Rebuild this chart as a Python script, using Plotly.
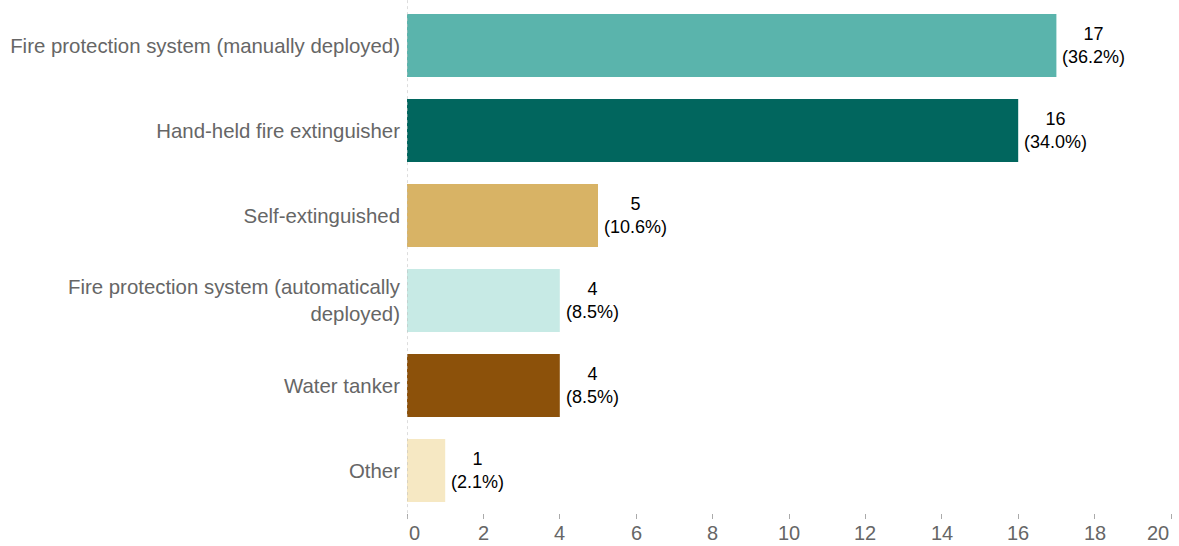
import plotly.graph_objects as go

categories = [
    "Fire protection system (manually deployed)",
    "Hand-held fire extinguisher",
    "Self-extinguished",
    "Fire protection system (automatically<br>deployed)",
    "Water tanker",
    "Other",
]
counts = [17, 16, 5, 4, 4, 1]
percents = [36.2, 34.0, 10.6, 8.5, 8.5, 2.1]
colors = ["#5AB4AC", "#01665E", "#D8B365", "#C7EAE5", "#8C510A", "#F6E8C3"]
x_ticks = [0, 2, 4, 6, 8, 10, 12, 14, 16, 18, 20]

FONT = "Liberation Sans, Arial, sans-serif"

fig = go.Figure(
    go.Bar(
        x=counts,
        y=categories,
        orientation="h",
        marker=dict(color=colors, line=dict(width=0)),
        hoverinfo="skip",
    )
)

# value + share labels to the right of each bar
for cat, n, p in zip(categories, counts, percents):
    fig.add_annotation(
        x=n, y=cat, xref="x", yref="y",
        text=f"{n}<br>({p:.1f}%)",
        showarrow=False, xanchor="left", yanchor="middle",
        align="center", xshift=4,
        font=dict(family=FONT, size=18, color="#000000"),
    )

# x tick labels, end labels kept inside the axis span
for i, t in enumerate(x_ticks):
    anchor = "left" if i == 0 else ("right" if i == len(x_ticks) - 1 else "center")
    fig.add_annotation(
        x=t, y=0, xref="x", yref="paper",
        text=str(t), showarrow=False,
        xanchor=anchor, yanchor="top", yshift=-7,
        font=dict(family=FONT, size=20, color="#666666"),
    )

# dotted baseline at zero
fig.add_shape(
    type="line", xref="x", yref="paper", x0=0, x1=0, y0=-0.012, y1=1.01,
    line=dict(color="#BBBBBB", width=1, dash="dot"),
)

fig.update_layout(
    width=1179, height=546,
    margin=dict(l=407, r=8, t=3, b=33),
    paper_bgcolor="white", plot_bgcolor="white",
    bargap=0.26,
    showlegend=False,
    font=dict(family=FONT, color="#666666"),
    xaxis=dict(
        range=[0, 20], tickvals=x_ticks, showgrid=False, zeroline=False,
        showline=False, ticks="outside", ticklen=5, tickcolor="#AAAAAA",
        showticklabels=False,
    ),
    yaxis=dict(
        autorange="reversed", showgrid=False, zeroline=False, showline=False,
        ticks="", ticklabelstandoff=6,
        tickfont=dict(size=20.4, color="#666666"),
    ),
)

fig.write_html("out.html")
